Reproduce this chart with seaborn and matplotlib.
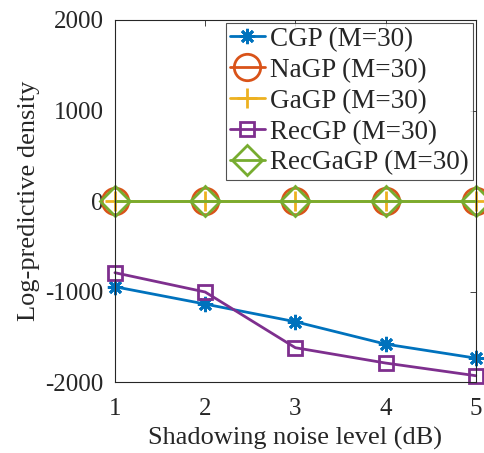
import numpy as np
import pandas as pd

import matplotlib
matplotlib.use("Agg")
import matplotlib.pyplot as plt
import seaborn as sns


# =========================================================
# DATA
# =========================================================

noise_levels = [1, 2, 3, 4, 5]

cgp = [-945, -1136, -1331, -1578, -1733]

nagp = [-4, -4, -4, -4, -4]

gagp = [-3, -3, -3, -3, -3]

recgp = [-790, -1003, -1618, -1787, -1927]

recgagp = [-2, -2, -2, -2, -2]

series_names = [
    "CGP (M=30)",
    "NaGP (M=30)",
    "GaGP (M=30)",
    "RecGP (M=30)",
    "RecGaGP (M=30)"
]

series_values = [cgp, nagp, gagp, recgp, recgagp]


# =========================================================
# STYLE
# =========================================================

sns.set_theme(style="white")

plt.rcParams["font.family"] = ["Liberation Serif", "DejaVu Serif"]
plt.rcParams["axes.unicode_minus"] = False

colors = ["#0072BD", "#D95319", "#EDB120", "#7E2F8E", "#77AC30"]

markers = [(8, 2, 0), "o", "+", "s", "D"]

marker_sizes = [11, 19, 15, 10, 15]


# =========================================================
# PLOT
# =========================================================

df = pd.DataFrame({
    "x": noise_levels * len(series_names),
    "y": np.concatenate(series_values),
    "series": np.repeat(series_names, len(noise_levels))
})

fig = plt.figure(figsize=(4.85, 4.53), dpi=100)

ax = fig.add_axes([0.237, 0.156, 0.744, 0.8])

for name, color, marker, ms in zip(
    series_names, colors, markers, marker_sizes
):

    sub = df[df["series"] == name]

    sns.lineplot(
        data=sub,
        x="x",
        y="y",
        ax=ax,
        color=color,
        marker=marker,
        markersize=ms,
        markerfacecolor="none",
        markeredgecolor=color,
        markeredgewidth=2,
        linewidth=2,
        label=name
    )

ax.set_xlim(1, 5)

ax.set_ylim(-2000, 2000)

ax.set_xticks([1, 2, 3, 4, 5])

ax.set_yticks([-2000, -1000, 0, 1000, 2000])

ax.set_xlabel("Shadowing noise level (dB)", fontsize=19, labelpad=5)

ax.set_ylabel("Log-predictive density", fontsize=19, labelpad=4)

ax.tick_params(
    axis="both",
    direction="in",
    length=4,
    width=0.6,
    labelsize=18,
    top=True,
    right=True,
    color="#262626",
    labelcolor="#262626",
    pad=8
)

ax.tick_params(axis="x", pad=11)

for spine in ax.spines.values():
    spine.set_color("#262626")
    spine.set_linewidth(0.8)

for line in ax.get_lines():
    line.set_clip_on(False)

leg = ax.legend(
    loc="upper right",
    fontsize=19.5,
    frameon=True,
    fancybox=False,
    handlelength=1.3,
    handletextpad=0.2,
    labelspacing=0.22,
    borderpad=0.15,
    borderaxespad=0.1
)

leg.get_frame().set_edgecolor("#262626")
leg.get_frame().set_linewidth(0.8)

fig.savefig("out.png", dpi=100)

plt.close(fig)
